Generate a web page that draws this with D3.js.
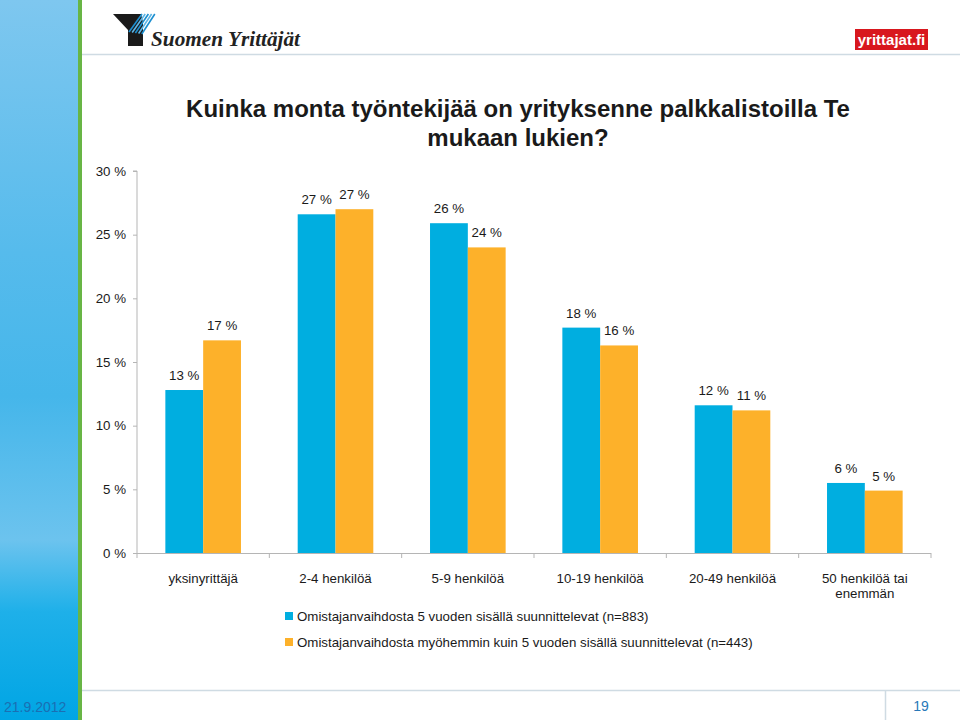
<!DOCTYPE html>
<html><head><meta charset="utf-8">
<script src="https://cdn.jsdelivr.net/npm/d3@7"></script>
<style>html,body{margin:0;padding:0;background:#fff;}svg{display:block;font-family:"Liberation Sans",sans-serif;}</style>
</head><body>
<svg id="c" width="960" height="720"></svg>
<script>
const categories = ["yksinyrittäjä", "2-4 henkilöä", "5-9 henkilöä", "10-19 henkilöä", "20-49 henkilöä", "50 henkilöä tai enemmän"];
const seriesNames = ["Omistajanvaihdosta 5 vuoden sisällä suunnittelevat (n=883)", "Omistajanvaihdosta myöhemmin kuin 5 vuoden sisällä suunnittelevat (n=443)"];
const seriesBlue = [12.8, 26.6, 25.9, 17.7, 11.6, 5.5];
const seriesOrange = [16.7, 27.0, 24.0, 16.3, 11.2, 4.9];
const labelsBlue = ["13 %", "27 %", "26 %", "18 %", "12 %", "6 %"];
const labelsOrange = ["17 %", "27 %", "24 %", "16 %", "11 %", "5 %"];
const yTicks = [0, 5, 10, 15, 20, 25, 30];
const titleLines = ["Kuinka monta työntekijää on yrityksenne palkkalistoilla Te", "mukaan lukien?"];

const FONT = "'Liberation Sans', sans-serif";
const FS = 13.3;
const colors = ["#00aee0", "#fdb12a"];
const svg = d3.select("#c");

// sidebar
const defs = svg.append("defs");
const g1 = defs.append("linearGradient").attr("id", "side").attr("x1", 0).attr("y1", 0).attr("x2", 0).attr("y2", 1);
[[0, "#7ec7ef"], [0.35, "#56bbec"], [0.55, "#45b6ea"], [0.75, "#6cc3ee"], [0.85, "#1eb0e9"], [1, "#00a5e4"]]
  .forEach(([o, c]) => g1.append("stop").attr("offset", o).attr("stop-color", c));
svg.append("rect").attr("x", 0).attr("y", 0).attr("width", 79).attr("height", 720).attr("fill", "url(#side)");
svg.append("rect").attr("x", 78).attr("y", 0).attr("width", 4).attr("height", 720).attr("fill", "#68b545");

// header / footer lines
svg.append("line").attr("x1", 82).attr("x2", 960).attr("y1", 54.5).attr("y2", 54.5).attr("stroke", "#cfdbe3").attr("stroke-width", 1.5);
svg.append("line").attr("x1", 82).attr("x2", 960).attr("y1", 690.5).attr("y2", 690.5).attr("stroke", "#cfdbe3").attr("stroke-width", 1.5);
svg.append("line").attr("x1", 885.5).attr("x2", 885.5).attr("y1", 690).attr("y2", 720).attr("stroke", "#cfdbe3").attr("stroke-width", 1.5);

// logo Suomen Yrittäjät
const logo = svg.append("g");
logo.append("polygon").attr("points", "113,14 141,14 143,22 143,46 128,46 128,30").attr("fill", "#1a1a1a");
for (let i = 0; i < 5; i++) {
  logo.append("line").attr("x1", 142 + i * 3.2).attr("y1", 14).attr("x2", 129 + i * 3.2).attr("y2", 32 + i * 0.5)
    .attr("stroke", i % 2 ? "#5fb6e6" : "#1c8fd0").attr("stroke-width", 1.6);
}
logo.append("text").attr("x", 151).attr("y", 46).attr("font-family", "'Liberation Serif','DejaVu Serif',serif")
  .attr("font-style", "italic").attr("font-weight", "bold").attr("font-size", 22).attr("fill", "#222")
  .attr("textLength", 149).attr("lengthAdjust", "spacingAndGlyphs").text("Suomen Yrittäjät");

// red logo
svg.append("rect").attr("x", 855).attr("y", 29).attr("width", 73).attr("height", 21).attr("fill", "#d8171e");
svg.append("text").attr("x", 891.5).attr("y", 45).attr("text-anchor", "middle").attr("font-weight", "bold")
  .attr("font-family", FONT).attr("font-size", 15).attr("fill", "#fff").text("yrittajat.fi");

// footer texts
svg.append("text").attr("x", 4).attr("y", 712).attr("font-family", FONT).attr("font-size", 14).attr("fill", "#1a6fb3").text("21.9.2012");
svg.append("text").attr("x", 921).attr("y", 711).attr("text-anchor", "middle").attr("font-family", FONT).attr("font-size", 14).attr("fill", "#2878b8").text("19");

// title
svg.append("g").selectAll("text").data(titleLines).join("text")
  .attr("x", 518).attr("y", (d, i) => 117 + i * 29).attr("text-anchor", "middle")
  .attr("font-family", FONT).attr("font-size", 24).attr("font-weight", "bold").attr("fill", "#1a1a1a").text(d => d);

// scales
const x0 = 137, x1 = 931, y0 = 553, yTop = 171;
const x = d3.scaleBand().domain(categories).range([x0, x1]).paddingInner(0).paddingOuter(0);
const W = x.bandwidth();
const gapHalf = (W / 3.5) * 0.75;
const xs = d3.scaleBand().domain([0, 1]).range([gapHalf, W - gapHalf]);
const y = d3.scaleLinear().domain([0, 30]).range([y0, yTop]);

// y axis
const yAxis = svg.append("g").attr("transform", `translate(${x0},0)`)
  .call(d3.axisLeft(y).tickValues(yTicks).tickFormat(d => d + " %").tickSize(4).tickPadding(7));
yAxis.attr("font-family", FONT);
yAxis.select(".domain").attr("stroke", "#b5b5b5").attr("d", `M-4,${yTop}H0V${y0}`);
yAxis.selectAll(".tick line").attr("stroke", "#b5b5b5");
yAxis.selectAll(".tick text").attr("font-size", FS).attr("fill", "#1a1a1a");

// bars
const series = [seriesBlue, seriesOrange];
const labels = [labelsBlue, labelsOrange];
series.forEach((vals, si) => {
  const g = svg.append("g");
  g.selectAll("rect").data(vals).join("rect")
    .attr("x", (d, i) => x(categories[i]) + xs(si))
    .attr("y", d => y(d))
    .attr("width", xs.bandwidth())
    .attr("height", d => y0 - y(d))
    .attr("fill", colors[si]);
  g.selectAll("text").data(vals).join("text")
    .attr("x", (d, i) => x(categories[i]) + xs(si) + xs.bandwidth() / 2)
    .attr("y", d => y(d) - 10)
    .attr("text-anchor", "middle").attr("font-family", FONT).attr("font-size", FS).attr("fill", "#1a1a1a")
    .text((d, i) => labels[si][i]);
});

// x axis
const xAxis = svg.append("g").attr("transform", `translate(0,${y0})`)
  .call(d3.axisBottom(x).tickSize(0).tickFormat(""));
xAxis.select(".domain").attr("stroke", "#b5b5b5").attr("d", `M${x0},0.5H${x1}`);
const bounds = d3.range(categories.length + 1).map(i => x0 + i * W);
xAxis.selectAll(".bt").data(bounds).join("line").attr("class", "bt")
  .attr("x1", d => d).attr("x2", d => d).attr("y1", 0).attr("y2", 5).attr("stroke", "#b5b5b5");

const catLines = { "50 henkilöä tai enemmän": ["50 henkilöä tai", "enemmän"] };
const cg = svg.append("g");
categories.forEach(c => {
  const lines = catLines[c] || [c];
  lines.forEach((l, li) => {
    cg.append("text").attr("x", x(c) + W / 2).attr("y", 583 + li * 15).attr("text-anchor", "middle")
      .attr("font-family", FONT).attr("font-size", FS).attr("fill", "#1a1a1a").text(l);
  });
});

// legend
const lg = svg.append("g");
seriesNames.forEach((n, i) => {
  lg.append("rect").attr("x", 285).attr("y", 612 + i * 26).attr("width", 8).attr("height", 8).attr("fill", colors[i]);
  lg.append("text").attr("x", 297).attr("y", 621 + i * 26).attr("font-family", FONT).attr("font-size", FS).attr("fill", "#1a1a1a").text(n);
});
</script>
</body></html>
